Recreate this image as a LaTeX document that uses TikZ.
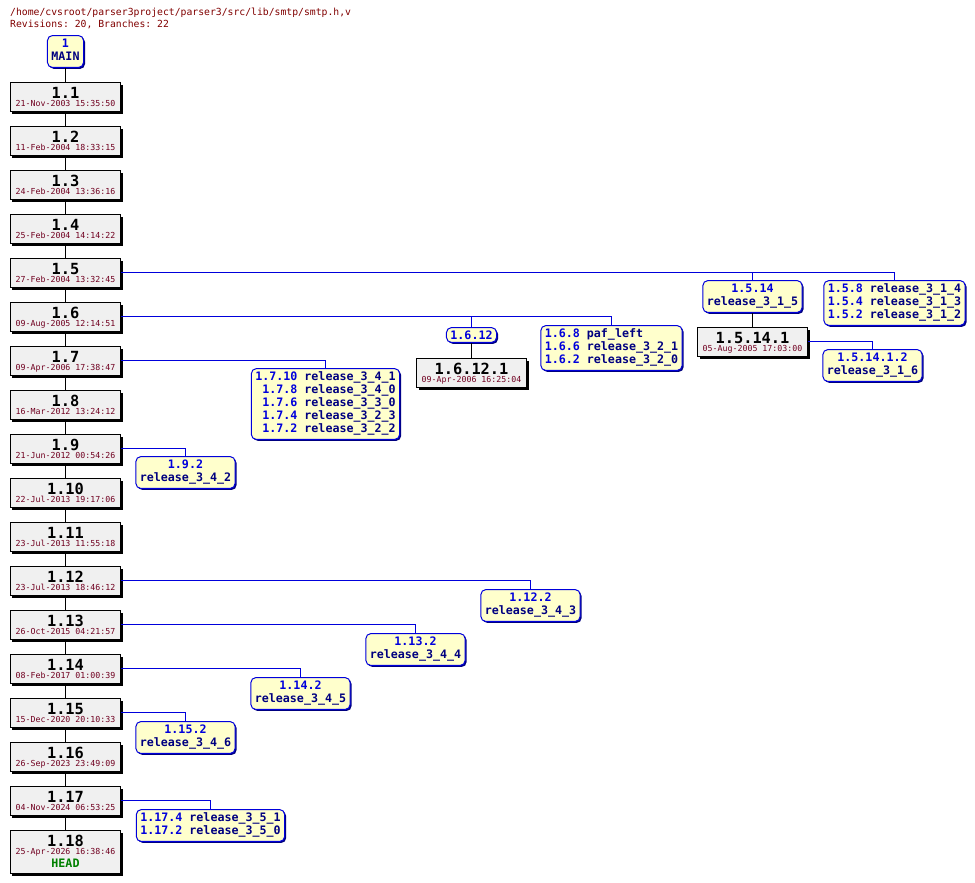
\documentclass[tikz,border=0pt]{standalone}
\usepackage{fontspec}
\setmonofont{DejaVu Sans Mono}
\usetikzlibrary{shadows}
\definecolor{titlered}{RGB}{128,0,0}
\definecolor{datered}{RGB}{112,0,32}
\definecolor{bnum}{RGB}{0,0,220}
\definecolor{btag}{RGB}{0,0,128}
\definecolor{tfill}{RGB}{240,240,240}
\definecolor{bfill}{RGB}{255,255,204}
\definecolor{headgreen}{RGB}{0,128,0}
\newcommand\revf{\ttfamily\bfseries\fontsize{15.4}{18}\selectfont}
\newcommand\datef{\ttfamily\fontsize{8.3}{10}\selectfont}
\newcommand\brf{\ttfamily\bfseries\fontsize{11.7}{13}\selectfont}
\newcommand\titf{\ttfamily\fontsize{9.8}{12}\selectfont}
\newcommand\bone[2]{\begin{tabular}{@{}c@{}}\textcolor{bnum}{#1}\\\textcolor{btag}{#2}\end{tabular}}
\newcommand\bl[2]{\textcolor{bnum}{#1}&\textcolor{btag}{#2}}
\tikzset{
  trunkbox/.style={draw=black, line width=1bp, fill=tfill, minimum width=110bp, minimum height=29bp, inner sep=0pt,
    drop shadow={shadow xshift=2bp, shadow yshift=-2bp, fill=black, opacity=1}},
  branchbox/.style={draw=bnum, line width=1bp, fill=bfill, rounded corners=5bp, inner xsep=4bp, inner ysep=3bp,
    font=\brf, drop shadow={shadow xshift=1.5bp, shadow yshift=-1.5bp, fill=btag, opacity=1}},
  revtxt/.style={anchor=base, inner sep=0pt, font=\revf, text depth=0pt},
  datetxt/.style={anchor=base, inner sep=0pt, font=\datef, text=datered, text height=6pt, text depth=0pt},
  tline/.style={draw=black, line width=1bp},
  brline/.style={draw=bnum, line width=1bp},
}
\begin{document}
\begin{tikzpicture}[x=1bp,y=1bp]
\useasboundingbox (0,0) rectangle (975,-883);
\node[anchor=base west, inner sep=0pt, font=\titf, text=titlered] (title1) at (10,-15.5) {/home/cvsroot/parser3project/parser3/src/lib/smtp/smtp.h,v};
\node[anchor=base west, inner sep=0pt, font=\titf, text=titlered] (title2) at (10,-27.5) {Revisions: 20, Branches: 22};

\node[branchbox] (main) at (65.5,-51.5) {\bone{1}{MAIN}};

\foreach \k/\d in {1/21-Nov-2003 15:35:50, 2/11-Feb-2004 18:33:15, 3/24-Feb-2004 13:36:16,
  4/25-Feb-2004 14:14:22, 5/27-Feb-2004 13:32:45, 6/09-Aug-2005 12:14:51, 7/09-Apr-2006 17:38:47,
  8/16-Mar-2012 13:24:12, 9/21-Jun-2012 00:54:26, 10/22-Jul-2013 19:17:06, 11/23-Jul-2013 11:55:18,
  12/23-Jul-2013 18:46:12, 13/26-Oct-2015 04:21:57, 14/08-Feb-2017 01:00:39, 15/15-Dec-2020 20:10:33,
  16/26-Sep-2023 23:49:09, 17/04-Nov-2024 06:53:25} {
  \node[trunkbox] (r\k) at (65.5,{-97-44*(\k-1)}) {};
  \node[revtxt] (r\k n) at ([yshift=-16bp]r\k.north) {1.\k};
  \node[datetxt] (r\k d) at ([yshift=-24bp]r\k.north) {\d};
}
\node[trunkbox, minimum height=43bp] (r18) at (65.5,-852) {};
\node[revtxt] (r18n) at ([yshift=-16bp]r18.north) {1.18};
\node[datetxt] (r18d) at ([yshift=-24bp]r18.north) {25-Apr-2026 16:38:46};
\node[anchor=base, inner sep=0pt, font=\brf, text=headgreen, text height=8pt] (r18h) at ([yshift=-37bp]r18.north) {HEAD};

% branch boxes
\node[branchbox] (b514) at (752.5,-296.5) {\bone{1.5.14}{release\_3\_1\_5}};
\node[branchbox] (b58) at (894.5,-303) {\begin{tabular}{@{}r@{\ }l@{}}\bl{1.5.8}{release\_3\_1\_4}\\\bl{1.5.4}{release\_3\_1\_3}\\\bl{1.5.2}{release\_3\_1\_2}\end{tabular}};
\node[trunkbox] (r5141) at (752.5,-342) {};
\node[revtxt] (r5141n) at ([yshift=-16bp]r5141.north) {1.5.14.1};
\node[datetxt] (r5141d) at ([yshift=-24bp]r5141.north) {05-Aug-2005 17:03:00};
\node[branchbox] (b51412) at (872.5,-365.5) {\bone{1.5.14.1.2}{release\_3\_1\_6}};

\node[branchbox] (b612) at (471.5,-335) {\textcolor{bnum}{1.6.12}};
\node[branchbox] (b68) at (611.5,-348) {\begin{tabular}{@{}r@{\ }l@{}}\bl{1.6.8}{paf\_left}\\\bl{1.6.6}{release\_3\_2\_1}\\\bl{1.6.2}{release\_3\_2\_0}\end{tabular}};
\node[trunkbox] (r6121) at (471.5,-373) {};
\node[revtxt] (r6121n) at ([yshift=-16bp]r6121.north) {1.6.12.1};
\node[datetxt] (r6121d) at ([yshift=-24bp]r6121.north) {09-Apr-2006 16:25:04};

\node[branchbox] (b710) at (325.5,-404) {\begin{tabular}{@{}r@{\ }l@{}}\bl{1.7.10}{release\_3\_4\_1}\\\bl{1.7.8}{release\_3\_4\_0}\\\bl{1.7.6}{release\_3\_3\_0}\\\bl{1.7.4}{release\_3\_2\_3}\\\bl{1.7.2}{release\_3\_2\_2}\end{tabular}};
\node[branchbox] (b92) at (185.5,-472.5) {\bone{1.9.2}{release\_3\_4\_2}};
\node[branchbox] (b122) at (530.5,-605.5) {\bone{1.12.2}{release\_3\_4\_3}};
\node[branchbox] (b132) at (415.5,-649.5) {\bone{1.13.2}{release\_3\_4\_4}};
\node[branchbox] (b142) at (300.5,-693.5) {\bone{1.14.2}{release\_3\_4\_5}};
\node[branchbox] (b152) at (185.5,-737.5) {\bone{1.15.2}{release\_3\_4\_6}};
\node[branchbox] (b174) at (210.5,-825.5) {\begin{tabular}{@{}r@{\ }l@{}}\bl{1.17.4}{release\_3\_5\_1}\\\bl{1.17.2}{release\_3\_5\_0}\end{tabular}};

% trunk connectors
\draw[tline] (main) -- (r1);
\foreach \a/\b in {1/2,2/3,3/4,4/5,5/6,6/7,7/8,8/9,9/10,10/11,11/12,12/13,13/14,14/15,15/16,16/17,17/18}
  \draw[tline] (r\a) -- (r\b);
\draw[tline] (b514) -- (r5141);
\draw[tline] (b612) -- (r6121);

% branch connectors
\draw[brline] ([yshift=0.5bp]r5.east) -| (b58.north);
\draw[brline] ([yshift=0.5bp]r5.east) -| (b514.north);
\draw[brline] ([yshift=0.5bp]r5141.east) -| (b51412.north);
\draw[brline] ([yshift=0.5bp]r6.east) -| (b68.north);
\draw[brline] ([yshift=0.5bp]r6.east) -| (b612.north);
\draw[brline] ([yshift=0.5bp]r7.east) -| (b710.north);
\draw[brline] ([yshift=0.5bp]r9.east) -| (b92.north);
\draw[brline] ([yshift=0.5bp]r12.east) -| (b122.north);
\draw[brline] ([yshift=0.5bp]r13.east) -| (b132.north);
\draw[brline] ([yshift=0.5bp]r14.east) -| (b142.north);
\draw[brline] ([yshift=0.5bp]r15.east) -| (b152.north);
\draw[brline] ([yshift=0.5bp]r17.east) -| (b174.north);
\end{tikzpicture}
\end{document}
